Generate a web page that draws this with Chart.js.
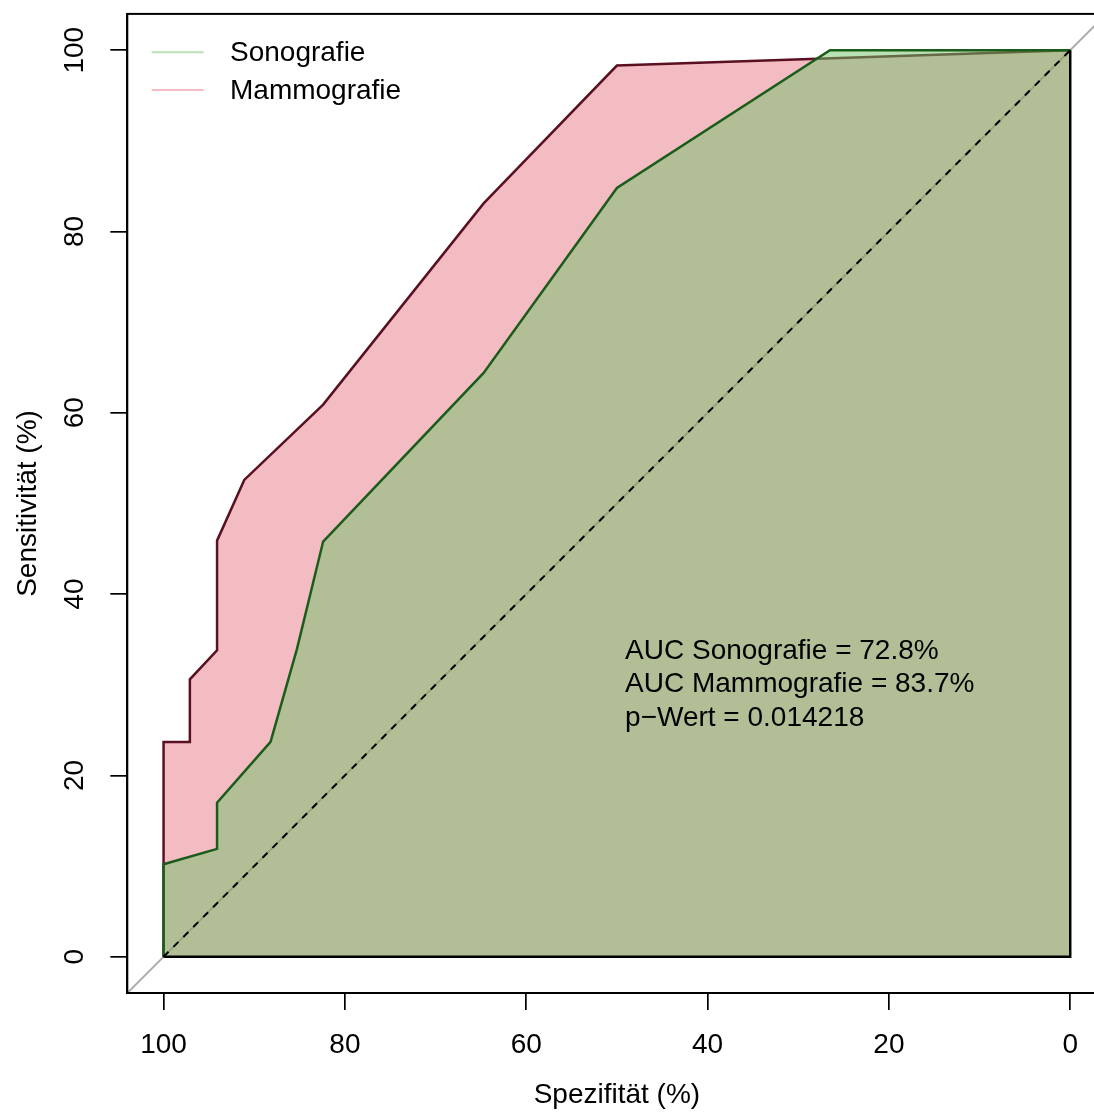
<!DOCTYPE html>
<html>
<head>
<meta charset="utf-8">
<script src="https://cdn.jsdelivr.net/npm/chart.js@4.4.1/dist/chart.umd.min.js"></script>
<style>
    html, body { margin: 0; padding: 0; background: #fff; overflow: hidden; }
    canvas { display: block; }
</style>
</head>
<body>
<canvas id="rocChart" width="1120" height="1112" style="width:1120px;height:1112px"></canvas>
<script>
// ROC curves, Sonografie vs Mammografie

const axisTicks = [0, 20, 40, 60, 80, 100];

const seriesNames = ['Sonografie', 'Mammografie'];

// Spezifität / Sensitivität (%)
const sonoSpec = [100, 100, 94.1, 94.1, 88.2, 85.3, 82.4, 64.7, 50.0, 26.5, 0];
const sonoSens = [0, 10.2, 11.9, 17.0, 23.7, 33.9, 45.8, 64.4, 84.8, 100, 100];

const mammoSpec = [100, 100, 97.1, 97.1, 94.1, 94.1, 91.1, 82.4, 64.7, 50.0, 0];
const mammoSens = [0, 23.7, 23.7, 30.6, 33.8, 45.9, 52.6, 60.9, 83.1, 98.3, 100];

const aucLines = ['AUC Sonografie = 72.8%', 'AUC Mammografie = 83.7%', 'p\u2212Wert = 0.014218'];

const FONT = '"Liberation Sans", Arial, Helvetica, sans-serif';
const sonoFill = 'rgba(113, 195, 106, 0.5)';
const mammoFill = 'rgba(220, 60, 80, 0.35)';
const sonoLine = '#1a5c1a';
const mammoLine = '#5a1020';

const toPoints = (xs, ys) => xs.map((x, i) => ({ x: x, y: ys[i] }));

// frame, legend and AUC text, drawn the way R's plot does
const rDecor = {
    id: 'rDecor',
    afterDatasetsDraw(chart) {
        const ctx = chart.ctx;
        const area = chart.chartArea;
        const xs = chart.scales.x;
        const ys = chart.scales.y;

        ctx.save();
        ctx.strokeStyle = '#000';
        ctx.lineWidth = 2;
        ctx.strokeRect(area.left, area.top, area.right - area.left, area.bottom - area.top);

        // legend (topleft, no box)
        ctx.font = '28px ' + FONT;
        ctx.textAlign = 'left';
        ctx.textBaseline = 'middle';
        const legendCols = [sonoFill, mammoFill];
        seriesNames.forEach((name, i) => {
            const y = area.top + 38.4 + i * 37.7;
            ctx.strokeStyle = legendCols[i];
            ctx.lineWidth = 2;
            ctx.beginPath();
            ctx.moveTo(area.left + 24.4, y);
            ctx.lineTo(area.left + 76.4, y);
            ctx.stroke();
            ctx.fillStyle = '#000';
            ctx.fillText(name, area.left + 102.7, y + 1);
        });

        // AUC annotation, centred on sens = 30
        const tx = xs.getPixelForValue(49.1);
        const ty = ys.getPixelForValue(30);
        aucLines.forEach((line, i) => {
            ctx.fillText(line, tx, ty + (i - 1) * 33.3);
        });
        ctx.restore();
    }
};

new Chart(document.getElementById('rocChart'), {
    type: 'line',
    data: {
        datasets: [
            {
                label: 'diag',
                data: [{ x: 104, y: -4 }, { x: -4, y: 104 }],
                borderColor: '#aaaaaa',
                borderWidth: 2,
                pointRadius: 0,
                fill: false,
                order: 6
            },
            {
                label: seriesNames[1],
                data: toPoints(mammoSpec, mammoSens),
                borderColor: mammoLine,
                backgroundColor: mammoFill,
                borderWidth: 2.5,
                pointRadius: 0,
                fill: 'origin',
                order: 5
            },
            {
                label: seriesNames[0],
                data: toPoints(sonoSpec, sonoSens),
                borderColor: sonoLine,
                backgroundColor: sonoFill,
                borderWidth: 2.5,
                pointRadius: 0,
                fill: 'origin',
                order: 4
            },
            {
                label: 'border',
                data: [{ x: 0, y: 100 }, { x: 0, y: 0 }, { x: 100, y: 0 }],
                borderColor: '#000',
                borderWidth: 2.5,
                pointRadius: 0,
                fill: false,
                order: 3
            },
            {
                label: 'chance',
                data: [{ x: 100, y: 0 }, { x: 0, y: 100 }],
                borderColor: '#000',
                borderWidth: 2,
                borderDash: [7, 7],
                pointRadius: 0,
                fill: false,
                order: 1
            }
        ]
    },
    options: {
        responsive: false,
        devicePixelRatio: 1,
        animation: false,
        layout: {
            padding: { top: 13.9, right: 13.5, left: 0, bottom: 0 }
        },
        elements: { line: { tension: 0 } },
        plugins: {
            legend: { display: false },
            tooltip: { enabled: false }
        },
        scales: {
            x: {
                type: 'linear',
                min: -4,
                max: 104,
                reverse: true,
                afterBuildTicks: (scale) => { scale.ticks = axisTicks.map(v => ({ value: v })); },
                afterFit: (scale) => {
                    scale.height = 119;
                    scale.paddingLeft = 0;
                    scale.paddingRight = 0;
                },
                grid: {
                    drawOnChartArea: false,
                    drawTicks: true,
                    tickLength: 17,
                    color: '#000',
                    lineWidth: 1.7
                },
                border: { display: true, color: '#000', width: 2 },
                ticks: {
                    color: '#000',
                    padding: 18,
                    maxRotation: 0,
                    font: { family: FONT, size: 28 }
                },
                title: {
                    display: true,
                    text: 'Spezifität (%)',
                    color: '#000',
                    padding: { top: 0, bottom: 0 },
                    font: { family: FONT, size: 28 }
                }
            },
            y: {
                type: 'linear',
                min: -4,
                max: 104,
                afterBuildTicks: (scale) => { scale.ticks = axisTicks.map(v => ({ value: v })); },
                afterFit: (scale) => {
                    scale.width = 127.3;
                    scale.paddingTop = 0;
                    scale.paddingBottom = 0;
                },
                grid: {
                    drawOnChartArea: false,
                    drawTicks: true,
                    tickLength: 17,
                    color: '#000',
                    lineWidth: 1.7
                },
                border: { display: true, color: '#000', width: 2 },
                ticks: {
                    color: '#000',
                    padding: 12,
                    minRotation: 90,
                    maxRotation: 90,
                    crossAlign: 'center',
                    font: { family: FONT, size: 28 }
                },
                title: {
                    display: true,
                    text: 'Sensitivität (%)',
                    color: '#000',
                    padding: { top: 11, bottom: 0 },
                    font: { family: FONT, size: 28 }
                }
            }
        }
    },
    plugins: [rDecor]
});
</script>
</body>
</html>
